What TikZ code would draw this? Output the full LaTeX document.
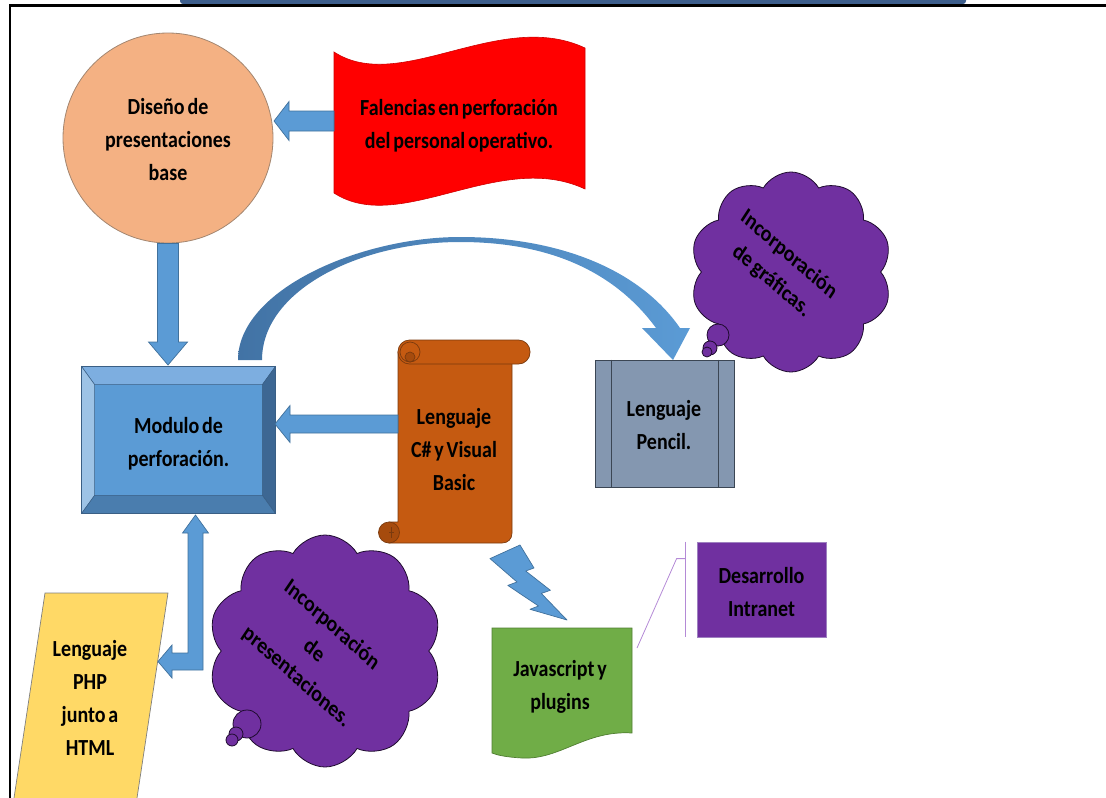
\documentclass[tikz,border=0pt]{standalone}
\usepackage{fontspec}
\setmainfont{Carlito}
\usetikzlibrary{calc,shapes.symbols}

\definecolor{peach}{HTML}{F4B183}
\definecolor{circedge}{HTML}{A38670}
\definecolor{redge}{HTML}{D00000}
\definecolor{arrowblue}{HTML}{5B9BD5}
\definecolor{arrowedge}{HTML}{41719C}
\definecolor{bevface}{HTML}{5B9BD5}
\definecolor{bevtop}{HTML}{7DAEE0}
\definecolor{bevleft}{HTML}{9DC3E6}
\definecolor{bevright}{HTML}{3D6793}
\definecolor{bevbot}{HTML}{4A7DAE}
\definecolor{bevedge}{HTML}{3A5F85}
\definecolor{scrollfill}{HTML}{C55A11}
\definecolor{scrolldark}{HTML}{A64B0D}
\definecolor{scrolledge}{HTML}{7A3A0E}
\definecolor{pencfill}{HTML}{8497B0}
\definecolor{pencedge}{HTML}{3B4654}
\definecolor{violet}{HTML}{7030A0}
\definecolor{cloudedge}{HTML}{1E0B2E}
\definecolor{greenfill}{HTML}{70AD47}
\definecolor{greenedge}{HTML}{507E32}
\definecolor{yellowfill}{HTML}{FFD966}
\definecolor{yellowedge}{HTML}{7F7F7F}
\definecolor{calloutline}{HTML}{B48AD6}
\definecolor{intraedge}{HTML}{9E80C0}
\definecolor{topbar}{HTML}{3D5E8C}
\definecolor{arcdark}{HTML}{4273A5}
\definecolor{arclight}{HTML}{5B9BD5}

% labels: narrow word spaces and a slightly tall letter shape
\newcommand\lblfont{\bfseries\fontsize{20}{28.7}\selectfont\spaceskip=2.8pt plus 1pt}

\tikzset{
  lbl/.style={align=center, font=\lblfont, text=black, inner sep=0pt, yscale=1.15},
  blockarrow/.style={fill=arrowblue, draw=arrowedge, line width=0.7pt, line join=miter},
  scrl/.style={fill=scrollfill, draw=scrolledge, line width=0.7pt},
  cloudshape/.style={cloud, cloud puffs=10, cloud puff arc=120, aspect=1, fill=violet, draw=cloudedge, line width=0.8pt, inner sep=0pt},
  bubble/.style={fill=violet, draw=cloudedge, line width=0.8pt},
  callout/.style={draw=calloutline, line width=0.8pt},
}

\begin{document}
\begin{tikzpicture}[x=1pt,y=-1pt]
\useasboundingbox (0,0) rectangle (1106,798);

% title bar remnant at the top
\fill[topbar, rounded corners=3pt] (180,-6) rectangle (966,4);

% ---------- design circle ----------
\node[circle, draw=circedge, fill=peach, line width=0.8pt, minimum size=210pt, inner sep=0pt] (dis) at (168,138) {};
\node[lbl] (disT) at (168,140) {Diseño de\\presentaciones\\base};

% ---------- wave banner ----------
\draw[draw=redge, fill=red, line width=0.6pt]
  (334,52) .. controls (400,95) and (500,8) .. (585,48) -- (585,189)
  .. controls (500,149) and (400,236) .. (334,193) -- cycle;
\node[lbl] (fal) at (459,126) {Falencias en perforación\\del personal operativo.};

% ---------- perforation module (bevelled box) ----------
\node[draw=bevedge, fill=bevface, line width=0.7pt, minimum width=193pt, minimum height=146pt, inner sep=0pt] (mod) at (178.5,440) {};
\coordinate (iNW) at ($(mod.north west)+(13,18)$);
\coordinate (iNE) at ($(mod.north east)+(-13,18)$);
\coordinate (iSE) at ($(mod.south east)+(-13,-18)$);
\coordinate (iSW) at ($(mod.south west)+(13,-18)$);
\draw[fill=bevtop, draw=bevedge, line width=0.5pt] (mod.north west) -- (mod.north east) -- (iNE) -- (iNW) -- cycle;
\draw[fill=bevleft, draw=bevedge, line width=0.5pt] (mod.north west) -- (iNW) -- (iSW) -- (mod.south west) -- cycle;
\draw[fill=bevright, draw=bevedge, line width=0.5pt] (mod.north east) -- (mod.south east) -- (iSE) -- (iNE) -- cycle;
\draw[fill=bevbot, draw=bevedge, line width=0.5pt] (mod.south west) -- (mod.south east) -- (iSE) -- (iSW) -- cycle;
\draw[draw=bevedge, line width=0.7pt] (mod.north west) rectangle (mod.south east);
\node[lbl] (modT) at (178.5,444) {Modulo de\\perforación.};

% ---------- scroll ----------
\draw[scrl] (398,352) -- (512,352) -- (512,533) .. controls (512,539) and (508,543) .. (502,543)
  -- (389,543) -- (389,522) -- (398,522) -- cycle;
\draw[scrl, fill=scrolldark] (389,532.5) circle[radius=10.5];
\draw[draw=scrolledge, line width=0.6pt] (389,532.5) -- (394,532.5) (391,527) -- (391,538);
\draw[scrl, rounded corners=11.5pt] (398,340) rectangle (530,364);
\draw[scrl] (410,352) circle[radius=10];
\draw[scrl, fill=scrolldark] (410,357) circle[radius=5];
\node[lbl] (lang) at (454,449.5) {Lenguaje\\C\# y Visual\\Basic};

% ---------- Pencil box ----------
\node[draw=pencedge, fill=pencfill, line width=0.8pt, minimum width=139pt, minimum height=127pt, inner sep=0pt] (pencil) at (664.5,423.5) {};
\draw[draw=pencedge, line width=0.8pt] ($(pencil.north west)+(17,0)$) -- ($(pencil.south west)+(17,0)$);
\draw[draw=pencedge, line width=0.8pt] ($(pencil.north east)+(-16,0)$) -- ($(pencil.south east)+(-16,0)$);
\node[lbl] (pencilT) at (664,425) {Lenguaje\\Pencil.};

% ---------- curved arrow from the module to Pencil ----------
\coordinate (arcL) at (250,360);
\begin{scope}[shift={(arcL)}]
  \path[left color=arcdark, right color=arclight, draw=none]
    (-12,0) .. controls (-12,-70) and (110,-123) .. (210,-123)
    .. controls (310,-123) and (390,-90) .. (430,-32)
    -- (440,-32) -- (423,0) -- (392,-32) -- (406,-32)
    .. controls (365,-88) and (300,-118) .. (210,-118)
    .. controls (110,-118) and (12,-70) .. (12,0) -- cycle;
\end{scope}

% ---------- block arrows ----------
\coordinate (falW) at (334,121);
\coordinate (disE) at (274,121);
\draw[blockarrow] ($(falW)+(0,-10)$) -- ($(disE)+(15,-10)$) -- ($(disE)+(15,-19.5)$) -- (disE)
  -- ($(disE)+(15,19.5)$) -- ($(disE)+(15,10)$) -- ($(falW)+(0,10)$) -- cycle;

\coordinate (modN) at (168,365);
\draw[blockarrow] ($(dis.south)+(-10.5,0)$) -- ($(modN)+(-10.5,-23)$) -- ($(modN)+(-19.5,-23)$) -- (modN)
  -- ($(modN)+(19.5,-23)$) -- ($(modN)+(10.5,-23)$) -- ($(dis.south)+(10.5,0)$) -- cycle;

\coordinate (langW) at (398,424);
\coordinate (modE) at (275,424);
\draw[blockarrow] ($(langW)+(0,-9)$) -- ($(modE)+(15,-9)$) -- ($(modE)+(15,-18.5)$) -- (modE)
  -- ($(modE)+(15,18.5)$) -- ($(modE)+(15,9)$) -- ($(langW)+(0,9)$) -- cycle;

% ---------- thought clouds ----------
\node[cloudshape, minimum width=202pt, minimum height=200pt] (cloudA) at (791,272) {};
\draw[bubble] (718,335) circle[radius=11];
\draw[bubble] (710,348) circle[radius=7];
\draw[bubble] (707,352) circle[radius=5];
\node[lbl, rotate=-37] (cloudAT) at (780,268) {Incorporación\\de gráficas.};

\node[cloudshape, minimum width=234pt, minimum height=232pt] (cloudB) at (325,651) {};
\draw[bubble] (247,724) circle[radius=14];
\draw[bubble] (236,734) circle[radius=7];
\draw[bubble] (232,740) circle[radius=6];
\node[lbl, rotate=-38] (cloudBT) at (314,651) {Incorporación\\de\\presentaciones.};

% ---------- lightning bolt ----------
\draw[blockarrow, line join=round] (520,545) -- (490,558.6) -- (517,582) -- (507.8,585.4) -- (538.5,606)
  -- (530,609.3) -- (567,620) -- (541.3,593.4) -- (550.4,590.3) -- (525.7,571) -- (534,568) -- cycle;

% ---------- Javascript document ----------
\draw[fill=greenfill, draw=greenedge, line width=0.7pt]
  (492,628) -- (632,628) -- (632,733) .. controls (585,730) and (560,760) .. (522,758)
  .. controls (505,757) and (497,755) .. (492,753) -- cycle;
\node[lbl] (js) at (560,687) {Javascript y\\plugins};

% ---------- Intranet callout ----------
\node[fill=violet, draw=intraedge, line width=0.8pt, minimum width=129pt, minimum height=95pt, inner sep=0pt] (intra) at (761.5,589.5) {};
\node[lbl] (intraT) at (761.5,592) {Desarrollo\\Intranet};
\coordinate (calEnd) at (637,648);
\draw[callout] ($(intra.north west)+(-11,0)$) -- ($(intra.south west)+(-11,0)$);
\draw[callout] ($(intra.north west)+(-11,17)$) -- ($(intra.north west)+(-20,17)$) -- (calEnd);

% ---------- PHP parallelogram ----------
\fill[yellowfill] (45,593) -- (168,593) -- (137,798) -- (14,798) -- cycle;
\draw[draw=yellowedge, line width=0.7pt] (14,798) -- (45,593) -- (168,593) -- (137,798);
\node[lbl] (php) at (90,698) {Lenguaje\\PHP\\junto a\\HTML};

% ---------- two-headed elbow arrow ----------
\coordinate (modB) at (195.5,515);
\coordinate (phpE) at (158,661.5);
\coordinate (elb) at (modB |- phpE);
\draw[blockarrow] (modB) -- ($(modB)+(13,18)$) -- ($(modB)+(7.5,18)$) -- ($(elb)+(7.5,8.5)$)
  -- ($(phpE)+(14,8.5)$) -- ($(phpE)+(14,16.5)$) -- (phpE) -- ($(phpE)+(14,-16.5)$) -- ($(phpE)+(14,-8.5)$)
  -- ($(elb)+(-7.5,-8.5)$) -- ($(modB)+(-7.5,18)$) -- ($(modB)+(-13,18)$) -- cycle;

% ---------- page frame ----------
\draw[line width=2.5pt] (1106,5.5) -- (10,5.5) -- (10,798);
\end{tikzpicture}
\end{document}
